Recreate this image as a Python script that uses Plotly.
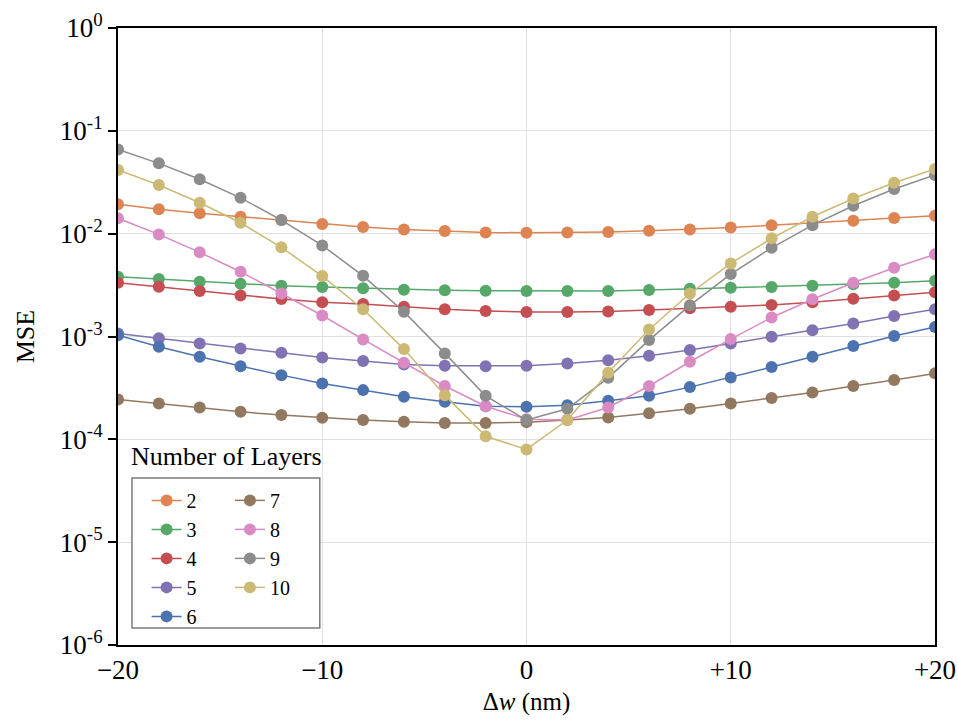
import plotly.graph_objects as go

dw = [-20, -18, -16, -14, -12, -10, -8, -6, -4, -2, 0, 2, 4, 6, 8, 10, 12, 14, 16, 18, 20]

mse_2 = [0.0193, 0.0173, 0.0158, 0.0146, 0.01356, 0.0124, 0.01159, 0.0110, 0.0106, 0.01028, 0.0102,
         0.01028, 0.0104, 0.01067, 0.0110, 0.0115, 0.01205, 0.01277, 0.01334, 0.0142, 0.0149]
mse_3 = [0.00381, 0.00362, 0.0034, 0.00326, 0.00311, 0.00303, 0.00294, 0.00285, 0.00281, 0.00279, 0.00277,
         0.00277, 0.00277, 0.00283, 0.00291, 0.00298, 0.00303, 0.00311, 0.00323, 0.00333, 0.00348]
mse_4 = [0.00333, 0.00304, 0.00277, 0.00251, 0.00231, 0.00215, 0.00207, 0.00195, 0.00184, 0.00177, 0.00173,
         0.00173, 0.00175, 0.00181, 0.00188, 0.00195, 0.00203, 0.00215, 0.00233, 0.00251, 0.0027]
mse_5 = [0.00107, 0.00096, 0.000857, 0.000766, 0.000694, 0.000626, 0.000577, 0.000535, 0.000519, 0.000515, 0.000519,
         0.000547, 0.000589, 0.000649, 0.000738, 0.000857, 0.000994, 0.00115, 0.00134, 0.00158, 0.00184]
mse_6 = [0.00103, 0.000794, 0.000635, 0.000515, 0.000421, 0.00035, 0.000301, 0.000259, 0.000232, 0.00021, 0.000207,
         0.000215, 0.000237, 0.000265, 0.000322, 0.0004, 0.000504, 0.000635, 0.000807, 0.00101, 0.00124]
mse_7 = [0.000244, 0.000223, 0.000204, 0.000185, 0.000172, 0.000162, 0.000154, 0.000148, 0.000144, 0.000144, 0.000147,
         0.000154, 0.000163, 0.000179, 0.000198, 0.000223, 0.000252, 0.000286, 0.00033, 0.000377, 0.000438]
mse_8 = [0.0141, 0.00984, 0.00658, 0.00426, 0.00262, 0.0016, 0.000937, 0.000555, 0.00033, 0.00021, 0.000157,
         0.000154, 0.000204, 0.00033, 0.000568, 0.000944, 0.00153, 0.0023, 0.00333, 0.00466, 0.00629]
mse_9 = [0.066, 0.0483, 0.0338, 0.0223, 0.01356, 0.00769, 0.00389, 0.00174, 0.000685, 0.000265, 0.000154,
         0.000198, 0.000396, 0.000923, 0.00201, 0.00405, 0.00729, 0.0121, 0.0187, 0.0272, 0.0372]
mse_10 = [0.0416, 0.0297, 0.02, 0.01277, 0.00736, 0.00387, 0.00184, 0.000754, 0.000269, 0.000107, 0.0000798,
          0.000154, 0.000444, 0.00117, 0.00262, 0.00514, 0.009, 0.0146, 0.022, 0.0313, 0.0425]

layers = ["2", "3", "4", "5", "6", "7", "8", "9", "10"]
series = [mse_2, mse_3, mse_4, mse_5, mse_6, mse_7, mse_8, mse_9, mse_10]
colors = ["#DD8452", "#55A868", "#C44E52", "#8172B3", "#4C72B0",
          "#937860", "#DA8BC3", "#8C8C8C", "#CCB974"]
# two legend columns: 2-6 in the first, 7-10 in the second
legend_cols = ["legend", "legend", "legend", "legend", "legend",
               "legend2", "legend2", "legend2", "legend2"]

x_tickvals = [-20, -10, 0, 10, 20]
x_ticktext = ["\u221220", "\u221210", "0", "+10", "+20"]
y_tickvals = [1, 1e-1, 1e-2, 1e-3, 1e-4, 1e-5, 1e-6]
y_ticktext = ["10<sup>0</sup>", "10<sup>-1</sup>", "10<sup>-2</sup>", "10<sup>-3</sup>",
              "10<sup>-4</sup>", "10<sup>-5</sup>", "10<sup>-6</sup>"]

FONT = "Liberation Serif"

fig = go.Figure()
for name, vals, col, lg in zip(layers, series, colors, legend_cols):
    fig.add_trace(go.Scatter(
        x=dw, y=vals, name=name, mode="lines+markers",
        line=dict(color=col, width=1.5),
        marker=dict(color=col, size=12),
        legend=lg,
    ))

leg_common = dict(
    orientation="v", yanchor="top", xanchor="left",
    bgcolor="rgba(0,0,0,0)", borderwidth=0,
    font=dict(family=FONT, size=20, color="black"),
    tracegroupgap=0,
)

fig.update_layout(
    width=958, height=720,
    margin=dict(l=118, r=23, t=28, b=75, autoexpand=False),
    paper_bgcolor="white", plot_bgcolor="white",
    font=dict(family=FONT, size=27, color="black"),
    showlegend=True,
    legend=dict(x=0.035, y=0.266, **leg_common),
    legend2=dict(x=0.137, y=0.266, **leg_common),
    shapes=[dict(
        type="rect", xref="paper", yref="paper",
        x0=0.0171, x1=0.247, y0=0.0276, y1=0.2707,
        line=dict(color="#7a7a7a", width=1.5), fillcolor="white", layer="above",
    )],
    annotations=[dict(
        text="Number of Layers", xref="paper", yref="paper",
        x=0.014, y=0.279, xanchor="left", yanchor="bottom", showarrow=False,
        font=dict(family=FONT, size=26, color="black"),
    )],
)

fig.update_xaxes(
    range=[-20, 20], tickvals=x_tickvals, ticktext=x_ticktext,
    showgrid=True, gridcolor="#e0e0e0", gridwidth=1,
    showline=True, linecolor="black", linewidth=2, mirror=True,
    ticks="", zeroline=False, automargin=False,
    title=dict(text="\u0394<i>w</i> (nm)", standoff=8, font=dict(family=FONT, size=25)),
    tickfont=dict(family=FONT, size=27),
)
fig.update_yaxes(
    type="log", range=[-6, 0], tickvals=y_tickvals, ticktext=y_ticktext,
    showgrid=True, gridcolor="#e0e0e0", gridwidth=1,
    showline=True, linecolor="black", linewidth=2, mirror=True,
    ticks="outside", ticklen=8, tickcolor="black", tickwidth=1.5,
    zeroline=False, automargin=False,
    title=dict(text="MSE", standoff=18, font=dict(family=FONT, size=26)),
    tickfont=dict(family=FONT, size=27),
)

fig.write_html("out.html")
